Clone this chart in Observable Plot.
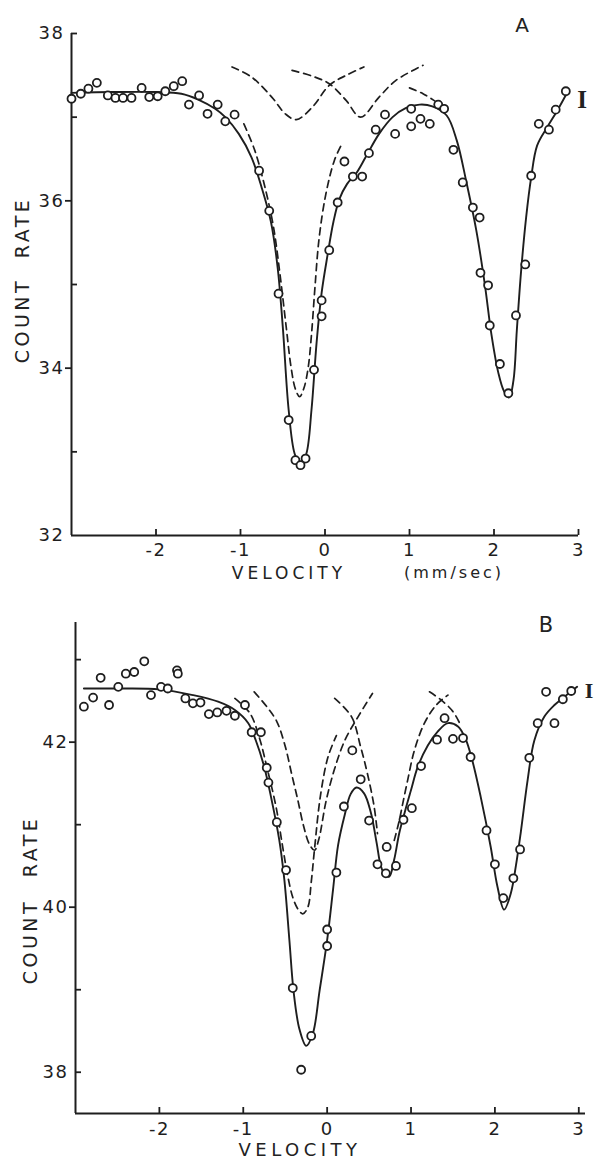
<!DOCTYPE html>
<html><head><meta charset="utf-8">
<script src="https://cdn.jsdelivr.net/npm/d3@7"></script>
<script src="https://cdn.jsdelivr.net/npm/@observablehq/plot@0.6"></script>
<style>
body{margin:0;background:#fff;}
#wrap{position:relative;width:595px;height:1161px;overflow:hidden;font-family:"DejaVu Sans",sans-serif;color:#222;background:#fff;}
.panel{position:absolute;left:0;}
.lbl{position:absolute;white-space:nowrap;transform:translate(-50%,-50%);line-height:1;}
.rot{transform:translate(-50%,-50%) rotate(-90deg);}
svg text{letter-spacing:1.5px;}
</style></head><body><div id="wrap"></div>
<script>
// ---------- Panel A data ----------
const pointsA = [[-3.00,37.22],[-2.89,37.28],[-2.80,37.34],[-2.70,37.41],[-2.57,37.26],[-2.48,37.23],[-2.39,37.23],[-2.29,37.23],[-2.17,37.35],[-2.08,37.24],[-1.98,37.25],[-1.89,37.31],[-1.79,37.37],[-1.69,37.43],[-1.61,37.15],[-1.49,37.26],[-1.39,37.04],[-1.27,37.15],[-1.18,36.95],[-1.07,37.03],[-0.78,36.36],[-0.66,35.88],[-0.55,34.89],[-0.43,33.38],[-0.35,32.90],[-0.29,32.84],[-0.23,32.92],[-0.13,33.98],[-0.04,34.62],[-0.04,34.81],[0.05,35.41],[0.15,35.98],[0.23,36.47],[0.33,36.29],[0.44,36.29],[0.52,36.57],[0.60,36.85],[0.71,37.03],[0.83,36.80],[1.02,37.10],[1.02,36.89],[1.13,36.98],[1.24,36.92],[1.34,37.15],[1.41,37.10],[1.52,36.61],[1.63,36.22],[1.75,35.92],[1.83,35.80],[1.84,35.14],[1.93,34.99],[1.95,34.51],[2.07,34.05],[2.17,33.70],[2.26,34.63],[2.37,35.24],[2.44,36.30],[2.53,36.92],[2.65,36.85],[2.73,37.09],[2.85,37.31]];
const fitA = [[-3.0,37.29],[-2.5,37.30],[-2.0,37.30],[-1.7,37.28],[-1.5,37.21],[-1.3,37.1],[-1.18,37.0],[-1.02,36.8],[-0.87,36.52],[-0.75,36.16],[-0.64,35.75],[-0.56,35.2],[-0.50,34.5],[-0.43,33.5],[-0.36,32.98],[-0.29,32.84],[-0.22,32.98],[-0.16,33.5],[-0.10,34.3],[-0.04,34.9],[0.03,35.35],[0.10,35.75],[0.17,36.02],[0.26,36.2],[0.37,36.33],[0.48,36.52],[0.64,36.8],[0.80,37.0],[0.96,37.11],[1.12,37.15],[1.27,37.13],[1.44,37.02],[1.56,36.72],[1.67,36.24],[1.79,35.65],[1.89,35.01],[1.97,34.4],[2.05,33.95],[2.12,33.72],[2.18,33.65],[2.23,33.85],[2.27,34.45],[2.32,35.15],[2.38,35.8],[2.44,36.28],[2.51,36.66],[2.63,36.88],[2.75,37.08],[2.87,37.3]];
const outerA1 = [[-0.96,36.92],[-0.83,36.60],[-0.71,36.16],[-0.61,35.69],[-0.53,35.1],[-0.46,34.5],[-0.40,34.0],[-0.35,33.75],[-0.30,33.66],[-0.25,33.76],[-0.20,34.0],[-0.16,34.4],[-0.12,34.95],[-0.07,35.55],[0.01,36.08],[0.11,36.48],[0.19,36.66]];
const outerA2 = [[1.0,37.35],[1.16,37.28],[1.32,37.18]];
const innerA1 = [[-1.10,37.60],[-0.87,37.48],[-0.63,37.24],[-0.47,37.04],[-0.34,36.97],[-0.15,37.12],[0.05,37.38],[0.25,37.5],[0.46,37.60]];
const innerA2 = [[-0.39,37.56],[-0.15,37.49],[0.05,37.4],[0.25,37.2],[0.42,37.0],[0.64,37.24],[0.84,37.44],[1.16,37.62]];
const yTicksA = [34, 36];
const yTicksAIn = [33, 35, 37, 38];
const yLabelsA = [32, 34, 36, 38];

// ---------- Panel B data ----------
const pointsB = [[-2.90,42.43],[-2.79,42.54],[-2.70,42.78],[-2.60,42.45],[-2.49,42.67],[-2.40,42.83],[-2.30,42.85],[-2.18,42.98],[-2.10,42.57],[-1.98,42.67],[-1.90,42.65],[-1.79,42.87],[-1.78,42.83],[-1.69,42.53],[-1.60,42.47],[-1.51,42.48],[-1.41,42.34],[-1.31,42.36],[-1.20,42.38],[-1.10,42.32],[-0.98,42.45],[-0.90,42.12],[-0.79,42.12],[-0.72,41.69],[-0.70,41.51],[-0.60,41.03],[-0.49,40.45],[-0.41,39.02],[-0.31,38.03],[-0.19,38.44],[0.0,39.53],[0.0,39.73],[0.11,40.42],[0.20,41.22],[0.30,41.90],[0.40,41.55],[0.50,41.05],[0.60,40.52],[0.70,40.41],[0.71,40.73],[0.82,40.50],[0.91,41.06],[1.01,41.20],[1.12,41.71],[1.31,42.03],[1.40,42.29],[1.50,42.04],[1.62,42.05],[1.71,41.82],[1.90,40.93],[2.00,40.52],[2.10,40.11],[2.22,40.35],[2.30,40.70],[2.41,41.81],[2.51,42.23],[2.61,42.61],[2.71,42.23],[2.81,42.52],[2.91,42.62]];
const fitB = [[-2.90,42.65],[-2.5,42.65],[-2.0,42.64],[-1.6,42.57],[-1.30,42.49],[-1.10,42.39],[-0.94,42.23],[-0.85,42.02],[-0.75,41.70],[-0.67,41.34],[-0.57,40.81],[-0.51,40.33],[-0.45,39.6],[-0.40,38.98],[-0.33,38.52],[-0.25,38.32],[-0.17,38.47],[-0.09,38.99],[0.0,39.6],[0.07,40.21],[0.13,40.75],[0.21,41.12],[0.28,41.37],[0.35,41.45],[0.44,41.38],[0.52,41.15],[0.59,40.78],[0.64,40.5],[0.69,40.39],[0.74,40.37],[0.80,40.58],[0.86,40.9],[0.93,41.17],[1.0,41.42],[1.08,41.70],[1.20,41.96],[1.32,42.13],[1.44,42.23],[1.56,42.19],[1.65,42.04],[1.73,41.78],[1.83,41.34],[1.95,40.73],[2.03,40.25],[2.11,39.97],[2.19,40.17],[2.25,40.5],[2.31,40.92],[2.39,41.54],[2.47,42.02],[2.59,42.31],[2.71,42.45],[2.83,42.55],[2.98,42.67]];
const outerB1 = [[-1.10,42.53],[-0.92,42.35],[-0.81,42.06],[-0.71,41.66],[-0.61,41.22],[-0.53,40.73],[-0.47,40.38],[-0.41,40.12],[-0.35,39.98],[-0.29,39.92],[-0.23,40.0],[-0.19,40.3],[-0.15,40.71],[-0.08,41.35],[0.01,41.82],[0.11,42.08]];
const innerB1 = [[-0.87,42.61],[-0.72,42.43],[-0.60,42.25],[-0.50,41.95],[-0.42,41.6],[-0.35,41.3],[-0.28,40.98],[-0.21,40.76],[-0.15,40.69],[-0.10,40.82],[-0.01,41.30],[0.09,41.68],[0.21,42.02],[0.37,42.31],[0.54,42.59]];
const innerB2a = [[0.09,42.53],[0.29,42.31],[0.40,41.94],[0.48,41.62],[0.56,41.22],[0.60,40.89]];
const innerB2b = [[0.80,40.81],[0.86,41.05],[0.90,41.25],[0.96,41.54],[1.04,41.9],[1.16,42.23],[1.30,42.45],[1.44,42.57]];
const outerB2 = [[1.22,42.61],[1.36,42.51],[1.50,42.37],[1.60,42.19]];
const yTicksB = [40, 42];
const yTicksBIn = [38, 39, 41, 43];
const yLabelsB = [38, 40, 42];

const xTicks = [-2, -1, 0, 1, 2, 3];

// ---------- drawing ----------
const ink = "#1e1e1e";
const fmtX = d => (d < 0 ? "-" + Math.abs(d) : String(d));
const X = d => d[0], Y = d => d[1];
const solid = data => Plot.line(data, {x: X, y: Y, curve: "catmull-rom", stroke: ink, strokeWidth: 1.9});
const dashed = data => Plot.line(data, {x: X, y: Y, curve: "catmull-rom", stroke: ink, strokeWidth: 1.7, strokeDasharray: "7,5"});
const dots = data => Plot.dot(data, {x: X, y: Y, r: 4, stroke: ink, strokeWidth: 1.8, fill: "white"});

function panel(o) {
  return Plot.plot({
    width: 595, height: o.height,
    marginTop: o.mt, marginBottom: o.mb, marginLeft: o.ml, marginRight: o.mr,
    x: {domain: o.xd}, y: {domain: o.yd},
    style: {fontFamily: "DejaVu Sans", fontSize: "18px", color: ink, background: "white"},
    marks: [
      Plot.ruleX([o.xd[0]], {stroke: ink, strokeWidth: 2}),
      Plot.ruleY([o.yd[0]], {stroke: ink, strokeWidth: 2}),
      Plot.axisY({ticks: o.yt, tickSize: 6, tickFormat: () => "", label: null, strokeWidth: 1.8}),
      Plot.axisY({ticks: o.ytin, tickSize: -6, tickFormat: () => "", label: null, strokeWidth: 1.8}),
      Plot.axisY({ticks: o.yl, tickSize: 6, tickPadding: 1, tickFormat: d => String(d), label: null, strokeOpacity: 0}),
      Plot.axisX({ticks: xTicks, tickSize: -6, tickPadding: o.xpad, tickFormat: fmtX, label: null, strokeWidth: 1.8}),
      ...o.dash.map(dashed),
      solid(o.fit),
      dots(o.pts)
    ]
  });
}

const plotA = panel({height: 590, mt: 33, mb: 55, ml: 71, mr: 17, xd: [-3, 3], yd: [32, 38],
  yt: yTicksA, ytin: yTicksAIn, yl: yLabelsA, xpad: 14,
  dash: [outerA1, outerA2, innerA1, innerA2], fit: fitA, pts: pointsA});
const plotB = panel({height: 571, mt: 32, mb: 48, ml: 75, mr: 10, xd: [-3, 3.08], yd: [37.5, 43.45],
  yt: yTicksB, ytin: yTicksBIn, yl: yLabelsB, xpad: 15,
  dash: [outerB1, innerB1, innerB2a, innerB2b, outerB2], fit: fitB, pts: pointsB});

const wrap = document.getElementById("wrap");
plotA.classList.add("panel"); plotA.style.top = "0px";
plotB.classList.add("panel"); plotB.style.top = "590px";
wrap.appendChild(plotA); wrap.appendChild(plotB);

function label(text, x, y, css) {
  const d = document.createElement("div");
  d.className = "lbl" + (css.rot ? " rot" : "");
  d.textContent = text;
  d.style.left = x + "px"; d.style.top = y + "px";
  for (const k in css) if (k !== "rot") d.style[k] = css[k];
  wrap.appendChild(d);
}
label("A", 522, 25, {fontSize: "20px"});
label("I", 582, 99, {fontSize: "25px", fontFamily: "Liberation Serif", fontWeight: "bold"});
label("COUNT RATE", 22, 280, {rot: true, fontSize: "19px", letterSpacing: "3.5px", wordSpacing: "10px"});
label("VELOCITY", 289, 573, {fontSize: "17px", letterSpacing: "4px"});
label("(mm/sec)", 454, 573, {fontSize: "16px", letterSpacing: "3px"});
label("B", 546, 625, {fontSize: "21px"});
label("I", 589, 691, {fontSize: "22px", fontFamily: "Liberation Serif", fontWeight: "bold"});
label("COUNT RATE", 30, 900, {rot: true, fontSize: "19px", letterSpacing: "3.5px", wordSpacing: "12px"});
label("VELOCITY", 300, 1150, {fontSize: "18px", letterSpacing: "4.5px"});
</script></body></html>
